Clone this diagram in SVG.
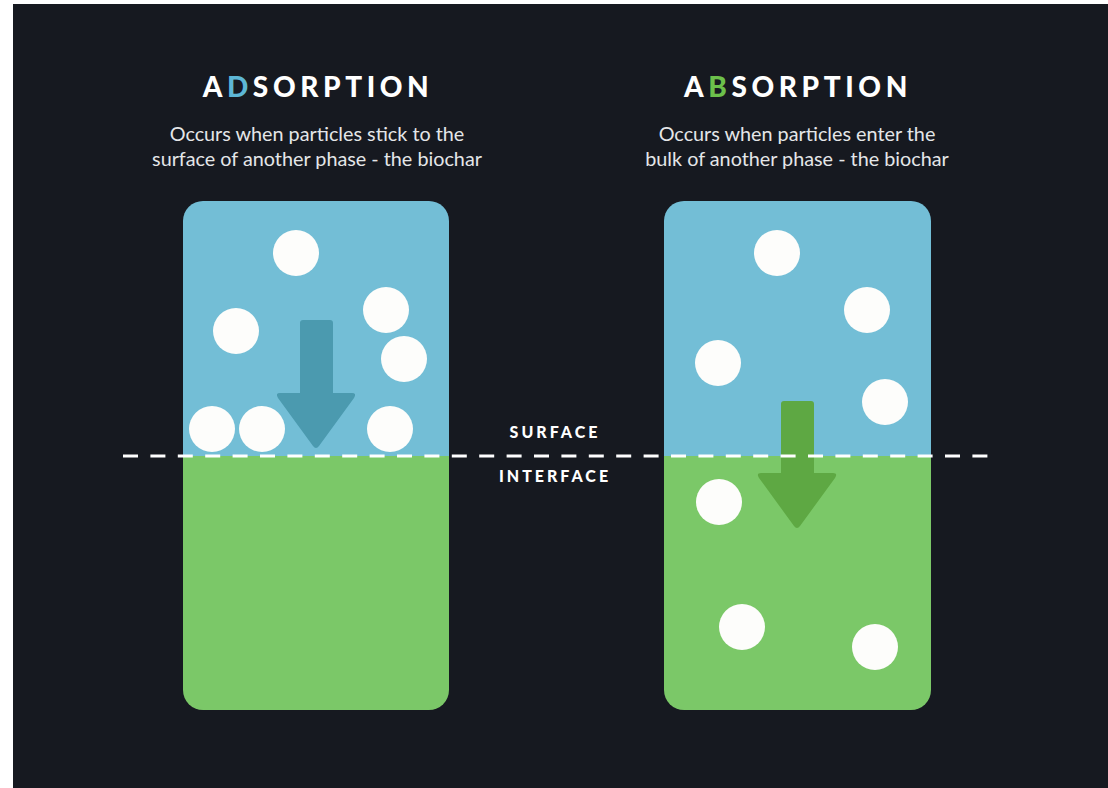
<svg xmlns="http://www.w3.org/2000/svg" width="1108" height="788" viewBox="0 0 1108 788">
  <style>
    .title { font-family: Lato, "Open Sans", sans-serif; font-weight: 900; font-size: 28px; letter-spacing: 4.6px; fill: #ffffff; text-anchor: middle; }
    .sub { font-family: Lato, "Open Sans", sans-serif; font-size: 19.8px; fill: #e4e6e8; text-anchor: middle; }
    .lbl { font-family: Lato, "Open Sans", sans-serif; font-weight: 900; font-size: 16px; letter-spacing: 3px; fill: #ffffff; text-anchor: middle; }
    .p { fill: #fdfdfb; }
    .blue { fill: #73bed6; }
    .green { fill: #7bc868; }
  </style>
  <defs>
    <clipPath id="clipL"><rect x="183" y="201" width="266" height="509" rx="20"/></clipPath>
    <clipPath id="clipR"><rect x="664" y="201" width="267" height="509" rx="20"/></clipPath>
  </defs>
  <rect x="0" y="0" width="1108" height="788" fill="#ffffff"/>
  <rect x="13" y="4" width="1095" height="784" fill="#161920"/>

  <g id="adsorption-title">
    <text class="title" x="318" y="97">A<tspan fill="#5db7d6">D</tspan>SORPTION</text>
    <text class="sub" x="317" y="141">Occurs when particles stick to the</text>
    <text class="sub" x="317" y="166">surface of another phase - the biochar</text>
  </g>
  <g id="absorption-title">
    <text class="title" x="798" y="97">A<tspan fill="#6cc04b">B</tspan>SORPTION</text>
    <text class="sub" x="797" y="141">Occurs when particles enter the</text>
    <text class="sub" x="797" y="166">bulk of another phase - the biochar</text>
  </g>

  <g id="adsorption-box">
    <g clip-path="url(#clipL)">
      <rect class="blue" x="183" y="201" width="266" height="255"/>
      <rect class="green" x="183" y="456" width="266" height="254"/>
    </g>
    <circle class="p" cx="296" cy="253" r="23"/>
    <circle class="p" cx="236" cy="331" r="23"/>
    <circle class="p" cx="386" cy="310" r="23"/>
    <circle class="p" cx="404" cy="359" r="23"/>
    <circle class="p" cx="212" cy="429" r="23"/>
    <circle class="p" cx="262" cy="429" r="23"/>
    <circle class="p" cx="390" cy="429" r="23"/>
    <path d="M303 320 H330 Q333 320 333 323 V393 H352 Q357 393 354 398 L319 446 Q316 450 313 446 L278 398 Q275 393 280 393 H300 V323 Q300 320 303 320 Z" fill="#4b9aaf"/>
  </g>

  <g id="absorption-box">
    <g clip-path="url(#clipR)">
      <rect class="blue" x="664" y="201" width="267" height="255"/>
      <rect class="green" x="664" y="456" width="267" height="254"/>
    </g>
    <circle class="p" cx="777" cy="253" r="23"/>
    <circle class="p" cx="867" cy="310" r="23"/>
    <circle class="p" cx="718" cy="363" r="23"/>
    <circle class="p" cx="885" cy="402" r="23"/>
    <circle class="p" cx="719" cy="502" r="23"/>
    <circle class="p" cx="742" cy="627" r="23"/>
    <circle class="p" cx="875" cy="647" r="23"/>
    <path d="M784 401 H811 Q814 401 814 404 V473 H833 Q838 473 835 478 L800 526 Q797 530 794 526 L759 478 Q756 473 761 473 H781 V404 Q781 401 784 401 Z" fill="#5ea843"/>
  </g>

  <g id="connectors">
    <line x1="123" y1="456" x2="990" y2="456" stroke="#ffffff" stroke-width="3" stroke-dasharray="15 12.4"/>
  </g>

  <g id="labels">
    <text class="lbl" x="555" y="438">SURFACE</text>
    <text class="lbl" x="555" y="482">INTERFACE</text>
  </g>
</svg>
